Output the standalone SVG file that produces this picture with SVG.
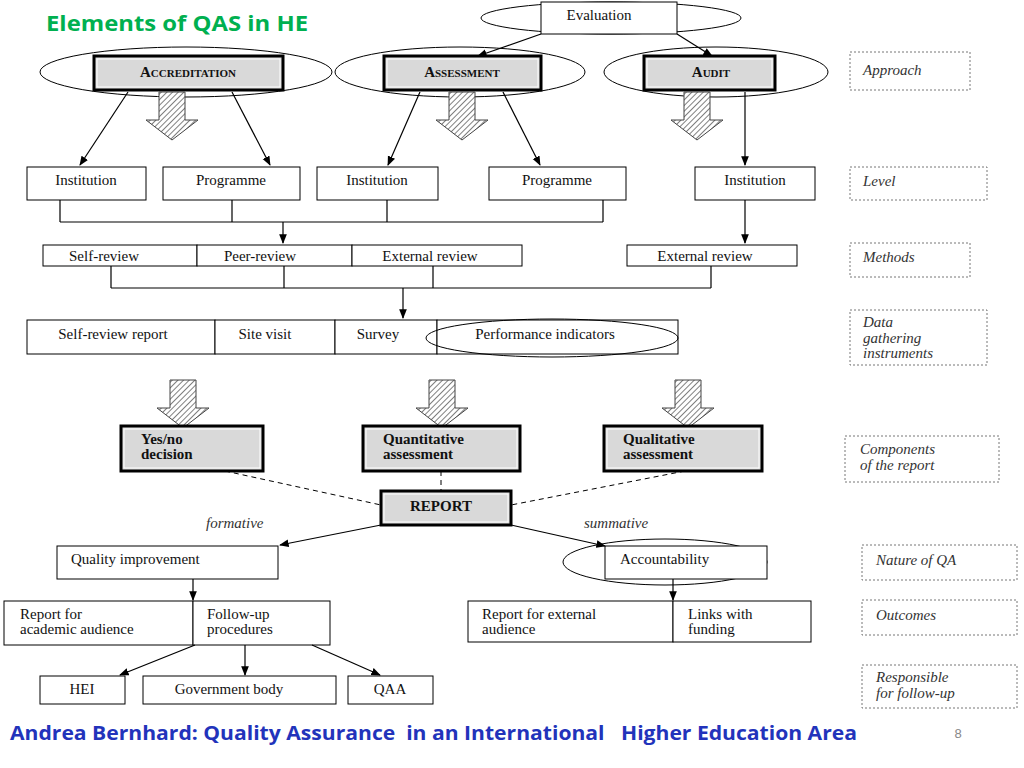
<svg xmlns="http://www.w3.org/2000/svg" width="1024" height="768" viewBox="0 0 1024 768">
<defs>
<pattern id="hatch" width="4" height="4" patternUnits="userSpaceOnUse" patternTransform="rotate(45)"><rect width="4" height="4" fill="#fff"/><line x1="0" y1="0" x2="0" y2="4" stroke="#555" stroke-width="1.5"/></pattern>
<marker id="ah" viewBox="0 0 10 10" refX="9" refY="5" markerWidth="8" markerHeight="8" orient="auto"><path d="M0,1 L10,5 L0,9 z" fill="#000"/></marker>
<path id="big" d="M-13,0 H13 V28 H26 L0,48 L-26,28 H-13 Z" fill="url(#hatch)" stroke="#444" stroke-width="1"/>
</defs>
<style>
.b{fill:#fff;stroke:#000;stroke-width:1}
.g{fill:#d9d9d9;stroke:#000;stroke-width:3}
.gi{fill:none;stroke:#fff;stroke-width:1}
.e{fill:none;stroke:#000;stroke-width:1}
.t{font-family:"Liberation Serif",serif;font-size:15px;fill:#111}
.tb{font-family:"Liberation Serif",serif;font-size:15px;font-weight:bold;fill:#111}
.sc{font-family:"Liberation Serif",serif;font-size:15px;font-weight:bold;font-variant:small-caps;fill:#111}
.r{fill:none;stroke:#777;stroke-width:1;stroke-dasharray:2,2}
.ri{font-family:"Liberation Serif",serif;font-size:15px;font-style:italic;fill:#333}
.l{stroke:#000;stroke-width:1.2;fill:none}
.d{stroke:#000;stroke-width:1;fill:none;stroke-dasharray:5,4}
</style>
<rect width="1024" height="768" fill="#fff"/>
<text x="46" y="31" font-family="Open Sans,Liberation Sans,sans-serif" font-size="22" font-weight="bold" fill="#00b050" textLength="262" lengthAdjust="spacingAndGlyphs">Elements of QAS in HE</text>

<g id="evaluation"><ellipse cx="611" cy="18" rx="130" ry="16" class="e"/><rect x="541" y="2" width="136" height="32" class="b"/><text x="599" y="20" class="t" text-anchor="middle">Evaluation</text></g>
<g id="accreditation"><ellipse cx="186" cy="72" rx="146" ry="25" class="e"/><rect x="94" y="56" width="189" height="34" class="g"/><rect x="97" y="59" width="183" height="28" class="gi"/><text x="188" y="77" class="sc" text-anchor="middle">Accreditation</text></g>
<g id="assessment"><ellipse cx="460" cy="72" rx="125" ry="25" class="e"/><rect x="384" y="56" width="157" height="34" class="g"/><rect x="387" y="59" width="151" height="28" class="gi"/><text x="462" y="77" class="sc" text-anchor="middle">Assessment</text></g>
<g id="audit"><ellipse cx="716" cy="72" rx="112" ry="25" class="e"/><rect x="644" y="56" width="131" height="34" class="g"/><rect x="647" y="59" width="125" height="28" class="gi"/><text x="711" y="77" class="sc" text-anchor="middle">Audit</text></g>

<g id="bigarrows">
<use href="#big" x="172" y="92"/><use href="#big" x="462" y="92"/><use href="#big" x="697" y="92"/>
<use href="#big" x="183" y="380"/><use href="#big" x="442" y="380"/><use href="#big" x="688" y="380"/>
</g>

<g id="level">
<rect x="27" y="167" width="119" height="33" class="b"/><text x="86" y="185" class="t" text-anchor="middle">Institution</text>
<rect x="163" y="167" width="137" height="33" class="b"/><text x="231" y="185" class="t" text-anchor="middle">Programme</text>
<rect x="317" y="167" width="121" height="33" class="b"/><text x="377" y="185" class="t" text-anchor="middle">Institution</text>
<rect x="489" y="167" width="137" height="33" class="b"/><text x="557" y="185" class="t" text-anchor="middle">Programme</text>
<rect x="695" y="167" width="120" height="33" class="b"/><text x="755" y="185" class="t" text-anchor="middle">Institution</text>
</g>
<g id="methods">
<rect x="43" y="245" width="154" height="21" class="b"/><text x="104" y="261" class="t" text-anchor="middle">Self-review</text>
<rect x="197" y="245" width="155" height="21" class="b"/><text x="260" y="261" class="t" text-anchor="middle">Peer-review</text>
<rect x="352" y="245" width="170" height="21" class="b"/><text x="430" y="261" class="t" text-anchor="middle">External review</text>
<rect x="627" y="245" width="170" height="21" class="b"/><text x="705" y="261" class="t" text-anchor="middle">External review</text>
</g>
<g id="data">
<rect x="27" y="320" width="188" height="34" class="b"/><text x="113" y="339" class="t" text-anchor="middle">Self-review report</text>
<rect x="215" y="320" width="120" height="34" class="b"/><text x="265" y="339" class="t" text-anchor="middle">Site visit</text>
<rect x="335" y="320" width="102" height="34" class="b"/><text x="378" y="339" class="t" text-anchor="middle">Survey</text>
<rect x="437" y="320" width="241" height="34" class="b"/><text x="545" y="339" class="t" text-anchor="middle">Performance indicators</text>
<ellipse cx="552" cy="338" rx="126" ry="19" class="e"/>
</g>
<g id="components">
<rect x="121" y="426" width="142" height="45" class="g"/><rect x="124" y="429" width="136" height="39" class="gi"/><text x="141" y="444" class="tb">Yes/no</text><text x="141" y="459" class="tb">decision</text>
<rect x="363" y="426" width="157" height="45" class="g"/><rect x="366" y="429" width="151" height="39" class="gi"/><text x="383" y="444" class="tb">Quantitative</text><text x="383" y="459" class="tb">assessment</text>
<rect x="604" y="426" width="158" height="45" class="g"/><rect x="607" y="429" width="152" height="39" class="gi"/><text x="623" y="444" class="tb">Qualitative</text><text x="623" y="459" class="tb">assessment</text>
</g>
<g id="report"><rect x="381" y="491" width="130" height="34" class="g"/><rect x="384" y="494" width="124" height="28" class="gi"/><text x="441" y="511" class="tb" text-anchor="middle">REPORT</text></g>
<g id="nature">
<rect x="57" y="546" width="221" height="33" class="b"/><text x="71" y="564" class="t">Quality improvement</text>
<ellipse cx="665" cy="562" rx="102" ry="23" class="e"/>
<rect x="605" y="546" width="162" height="33" class="b"/><text x="620" y="564" class="t">Accountability</text>
</g>
<g id="outcomes">
<rect x="4" y="601" width="189" height="44" class="b"/><text x="20" y="619" class="t">Report for</text><text x="20" y="634" class="t">academic audience</text>
<rect x="193" y="601" width="137" height="44" class="b"/><text x="207" y="619" class="t">Follow-up</text><text x="207" y="634" class="t">procedures</text>
<rect x="468" y="601" width="205" height="41" class="b"/><text x="482" y="619" class="t">Report for external</text><text x="482" y="634" class="t">audience</text>
<rect x="673" y="601" width="138" height="41" class="b"/><text x="688" y="619" class="t">Links with</text><text x="688" y="634" class="t">funding</text>
</g>
<g id="responsible">
<rect x="40" y="676" width="85" height="28" class="b"/><text x="82" y="694" class="t" text-anchor="middle">HEI</text>
<rect x="143" y="676" width="193" height="28" class="b"/><text x="229" y="694" class="t" text-anchor="middle">Government body</text>
<rect x="348" y="676" width="85" height="28" class="b"/><text x="390" y="694" class="t" text-anchor="middle">QAA</text>
</g>

<g id="connectors">
<line x1="541" y1="34" x2="478" y2="56" class="l" marker-end="url(#ah)"/>
<line x1="677" y1="34" x2="712" y2="56" class="l" marker-end="url(#ah)"/>
<line x1="128" y1="92" x2="80" y2="165" class="l" marker-end="url(#ah)"/>
<line x1="232" y1="92" x2="270" y2="165" class="l" marker-end="url(#ah)"/>
<line x1="420" y1="92" x2="388" y2="165" class="l" marker-end="url(#ah)"/>
<line x1="503" y1="92" x2="540" y2="165" class="l" marker-end="url(#ah)"/>
<line x1="745" y1="92" x2="745" y2="165" class="l" marker-end="url(#ah)"/>
<path d="M60,200 V222 M232,200 V222 M387,200 V222 M603,200 V222 M60,222 H603" class="l"/>
<line x1="283" y1="222" x2="283" y2="243" class="l" marker-end="url(#ah)"/>
<line x1="745" y1="200" x2="745" y2="243" class="l" marker-end="url(#ah)"/>
<path d="M111,266 V288 M284,266 V288 M433,266 V288 M711,266 V288 M111,288 H711" class="l"/>
<line x1="403" y1="288" x2="403" y2="318" class="l" marker-end="url(#ah)"/>
<line x1="225" y1="471" x2="381" y2="505" class="d"/>
<line x1="441" y1="471" x2="441" y2="491" class="d" stroke-dasharray="3,2"/>
<line x1="685" y1="471" x2="511" y2="505" class="d"/>
<line x1="381" y1="525" x2="280" y2="545" class="l" marker-end="url(#ah)"/>
<line x1="511" y1="525" x2="605" y2="546" class="l" marker-end="url(#ah)"/>
<line x1="193" y1="579" x2="193" y2="600" class="l" marker-end="url(#ah)"/>
<line x1="673" y1="579" x2="673" y2="600" class="l" marker-end="url(#ah)"/>
<line x1="195" y1="645" x2="120" y2="675" class="l" marker-end="url(#ah)"/>
<line x1="245" y1="645" x2="245" y2="675" class="l" marker-end="url(#ah)"/>
<line x1="312" y1="645" x2="380" y2="675" class="l" marker-end="url(#ah)"/>
<text x="206" y="528" class="ri" font-size="13">formative</text>
<text x="584" y="528" class="ri" font-size="13">summative</text>
</g>

<g id="legend">
<rect x="850" y="52" width="120" height="38" class="r"/><text x="863" y="75" class="ri">Approach</text>
<rect x="850" y="167" width="137" height="33" class="r"/><text x="863" y="186" class="ri">Level</text>
<rect x="850" y="243" width="120" height="34" class="r"/><text x="863" y="262" class="ri">Methods</text>
<rect x="850" y="310" width="137" height="55" class="r"/><text x="863" y="327" class="ri">Data</text><text x="863" y="343" class="ri">gathering</text><text x="863" y="358" class="ri">instruments</text>
<rect x="845" y="436" width="154" height="46" class="r"/><text x="860" y="454" class="ri">Components</text><text x="860" y="470" class="ri">of the report</text>
<rect x="862" y="545" width="155" height="35" class="r"/><text x="876" y="565" class="ri">Nature of QA</text>
<rect x="862" y="600" width="155" height="35" class="r"/><text x="876" y="620" class="ri">Outcomes</text>
<rect x="862" y="665" width="155" height="43" class="r"/><text x="876" y="682" class="ri">Responsible</text><text x="876" y="698" class="ri">for follow-up</text>
</g>

<text x="10" y="740" font-family="Open Sans,Liberation Sans,sans-serif" font-size="20" font-weight="bold" fill="#2233bb" xml:space="preserve" textLength="847" lengthAdjust="spacingAndGlyphs">Andrea Bernhard: Quality Assurance  in an International   Higher Education Area</text>
<text x="958" y="738" font-family="Liberation Sans,sans-serif" font-size="13" fill="#888" text-anchor="middle">8</text>
</svg>
